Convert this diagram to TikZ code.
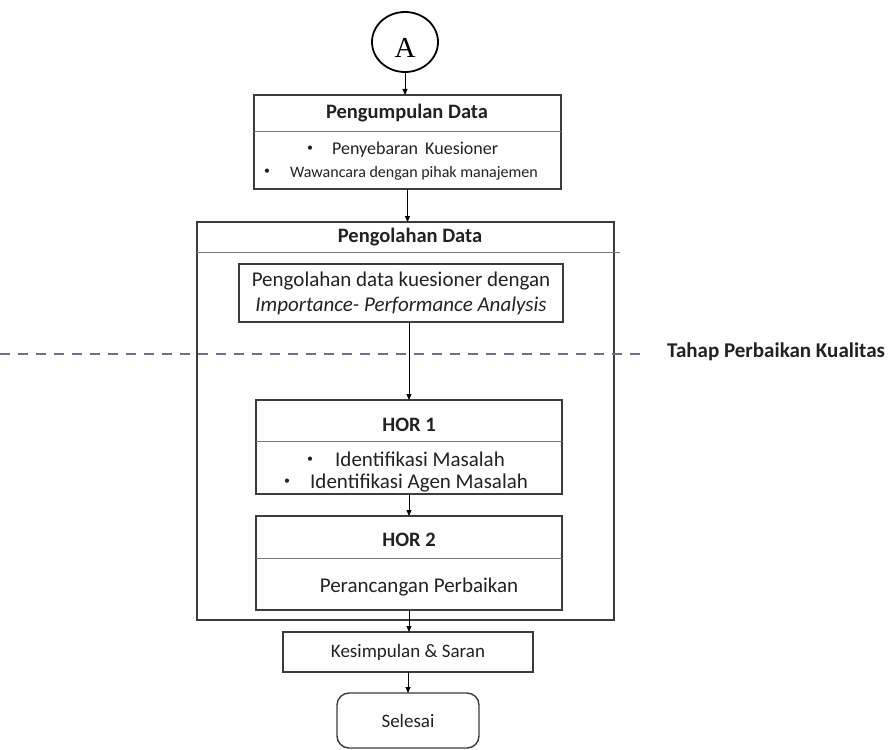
\documentclass[tikz,border=0pt]{standalone}
\usepackage{fontspec}
\setmainfont{Carlito}
\newfontfamily\serifA{Liberation Serif}
\usetikzlibrary{arrows.meta,shapes.geometric}
\definecolor{boxgray}{HTML}{3C3C3C}
\definecolor{divgray}{HTML}{7A7A7A}
\definecolor{textdark}{HTML}{222222}
\definecolor{dashblue}{HTML}{6E6E90}
% small raised bullet followed by a fixed gap
\newcommand{\smallbul}[1]{\makebox[#1][l]{\raisebox{0.18em}{\fontsize{12}{12}\selectfont\textbullet}}}
\begin{document}
\begin{tikzpicture}[x=1pt,y=-1pt,
  box/.style={draw=boxgray, line width=1.4pt, inner sep=0pt, outer sep=0pt},
  divider/.style={draw=divgray, line width=0.9pt},
  arr/.style={draw=black, line width=0.8pt, -{Triangle[length=6pt,width=5pt]}},
  ttl/.style={font=\fontsize{20.5}{24}\selectfont\bfseries, text=textdark, inner sep=0pt},
  body/.style={font=\fontsize{21}{25}\selectfont, text=textdark, inner sep=0pt},
  bodymid/.style={font=\fontsize{18}{22}\selectfont, text=textdark, inner sep=0pt},
  bodysmall/.style={font=\fontsize{16}{20}\selectfont, text=textdark, inner sep=0pt},
  dashline/.style={draw=dashblue, line width=2.4pt, dash pattern=on 10pt off 8pt}
]
\useasboundingbox (0,0) rectangle (890,749);

% start connector
\node[ellipse, draw=black, line width=1.8pt, minimum width=66, minimum height=60, inner sep=0pt] (cA) at (405,42) {};
\node[inner sep=0pt, font=\serifA\fontsize{29}{30}\selectfont] (cAlbl) at (405,48) {A};

% data collection
\node[box, minimum width=307, minimum height=94] (pd) at (407.5,142) {};
\draw[divider] (pd.west |- 0,131) -- (pd.east |- 0,131);
\node[ttl] (pdT) at (407,113) {Pengumpulan Data};
\node[bodymid, anchor=west] (pdL1) at (307,150) {\smallbul{25pt}Penyebaran\hspace{3pt} Kuesioner};
\node[bodysmall, anchor=west] (pdL2) at (264,173) {\smallbul{26pt}Wawancara dengan pihak manajemen};

% data processing frame
\node[box, line width=1.2pt, minimum width=417, minimum height=398] (po) at (405.5,421) {};
\draw[divider] (po.west |- 0,252) -- (620,252);
\node[ttl] (poT) at (410,237) {Pengolahan Data};

\node[box, minimum width=324, minimum height=58] (ipa) at (401,293) {};
\node[body] (ipaL1) at (401,281) {Pengolahan data kuesioner dengan};
\node[body] (ipaL2) at (401,306) {\itshape Importance- Performance Analysis};

% phase boundary
\coordinate (dashL) at (0,354);
\coordinate (dashR) at (644,354);
\draw[dashline] (dashL) -- (dashR);
\node[font=\fontsize{21}{24}\selectfont\bfseries, text=textdark, inner sep=0pt, anchor=west] (phase) at (667,352) {Tahap Perbaikan Kualitas};

% HOR 1
\node[box, minimum width=306, minimum height=94] (h1) at (409,447) {};
\draw[divider] (h1.west |- 0,441) -- (h1.east |- 0,441);
\node[ttl] (h1T) at (409,425) {HOR 1};
\node[body, anchor=west] (h1L1) at (307,459) {\smallbul{28pt}Identifikasi Masalah};
\node[body, anchor=west] (h1L2) at (284,483) {\smallbul{26pt}Identifikasi Agen Masalah};

% HOR 2
\node[box, minimum width=306, minimum height=94] (h2) at (409,563) {};
\draw[divider] (h2.west |- 0,558) -- (h2.east |- 0,558);
\node[ttl] (h2T) at (409,540) {HOR 2};
\node[body] (h2L) at (419,587) {Perancangan Perbaikan};

% closing steps
\node[box, minimum width=250, minimum height=40] (ks) at (408,652) {};
\node[bodymid, font=\fontsize{19}{23}\selectfont] (ksL) at (408,652) {Kesimpulan \& Saran};
\node[box, rounded corners=12pt, minimum width=142, minimum height=55] (sl) at (408,720.5) {};
\node[bodymid, font=\fontsize{19}{23}\selectfont] (slL) at (408,721) {Selesai};

% connectors
\draw[arr] (cA.south) -- (cA.south |- pd.north);
\draw[arr] (pd.south) -- (pd.south |- po.north);
\draw[arr] (h1.north |- ipa.south) -- (h1.north);
\draw[arr] (h1.south) -- (h2.north);
\draw[arr] (h2.south) -- (h2.south |- ks.north);
\draw[arr] (ks.south) -- (sl.north);
\end{tikzpicture}
\end{document}
